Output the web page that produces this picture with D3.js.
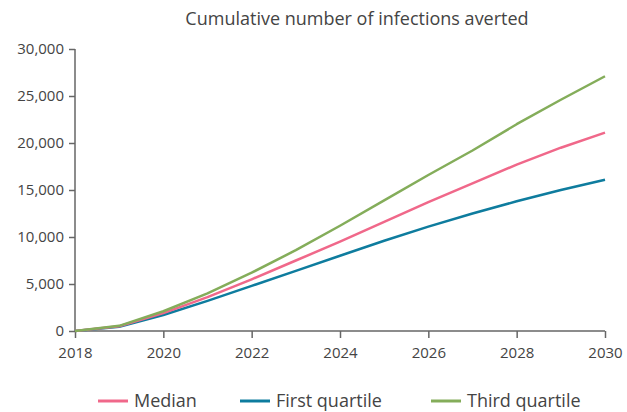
<!DOCTYPE html>
<html>
<head>
<meta charset="utf-8">
<script src="https://cdn.jsdelivr.net/npm/d3@7"></script>
<style>
  body { margin: 0; background: #fff; }
  svg text { font-family: "Open Sans", "Noto Sans", sans-serif; fill: #444; }
</style>
</head>
<body>
<div id="chart"></div>
<script>
var years = [2018, 2019, 2020, 2021, 2022, 2023, 2024, 2025, 2026, 2027, 2028, 2029, 2030];
var median = [0, 500, 1900, 3600, 5500, 7500, 9500, 11600, 13700, 15700, 17700, 19500, 21100];
var firstQuartile = [0, 450, 1700, 3200, 4800, 6400, 8000, 9600, 11100, 12500, 13800, 15000, 16100];
var thirdQuartile = [0, 550, 2100, 4000, 6200, 8600, 11200, 13900, 16600, 19200, 22000, 24600, 27100];
var xTicks = [2018, 2020, 2022, 2024, 2026, 2028, 2030];
var yTicks = [0, 5000, 10000, 15000, 20000, 25000, 30000];

var width = 627, height = 412;
var margin = { top: 49, right: 22, bottom: 81, left: 75 };

var svg = d3.select("#chart").append("svg")
  .attr("width", width).attr("height", height);

var x = d3.scaleLinear().domain([2018, 2030]).range([margin.left, width - margin.right]);
var y = d3.scaleLinear().domain([0, 30000]).range([height - margin.bottom, margin.top]);

svg.append("text")
  .attr("x", 357).attr("y", 25)
  .attr("text-anchor", "middle")
  .style("font-size", "18px")
  .text("Cumulative number of infections averted");

// axes
var fmt = d3.format(",");
var yAxis = svg.append("g")
  .attr("transform", "translate(" + margin.left + ",0)")
  .call(d3.axisLeft(y).tickValues(yTicks).tickSize(6).tickPadding(5).tickFormat(fmt));
var xAxis = svg.append("g")
  .attr("transform", "translate(0," + (height - margin.bottom) + ")")
  .call(d3.axisBottom(x).tickValues(xTicks).tickSize(7).tickPadding(9).tickFormat(d3.format("d")));

[yAxis, xAxis].forEach(function (g) {
  g.select(".domain").attr("stroke", "#666").attr("stroke-width", 1.5);
  g.selectAll(".tick line").attr("stroke", "#666").attr("stroke-width", 1.5);
  g.selectAll(".tick text").style("font-size", "15px").attr("fill", "#444")
    .style("font-family", "'Open Sans', 'Noto Sans', sans-serif");
});
// no outer tick stubs on the domain lines
yAxis.select(".domain").attr("d", "M0," + y(30000) + "V" + y(0));
xAxis.select(".domain").attr("d", "M" + x(2018) + ",0H" + x(2030));

var series = [
  { name: "First quartile", values: firstQuartile, color: "#0e7c9e" },
  { name: "Median", values: median, color: "#f0688a" },
  { name: "Third quartile", values: thirdQuartile, color: "#84ad5a" }
];

var line = d3.line()
  .x(function (d, i) { return x(years[i]); })
  .y(function (d) { return y(d); });

svg.append("g").selectAll("path")
  .data(series)
  .enter().append("path")
  .attr("d", function (d) { return line(d.values); })
  .attr("fill", "none")
  .attr("stroke", function (d) { return d.color; })
  .attr("stroke-width", 2.5)
  .attr("stroke-linejoin", "round");

// legend
var legendItems = [
  { name: "Median", color: "#f0688a", x: 98 },
  { name: "First quartile", color: "#0e7c9e", x: 240 },
  { name: "Third quartile", color: "#84ad5a", x: 431 }
];
var lg = svg.append("g").selectAll("g")
  .data(legendItems).enter().append("g")
  .attr("transform", function (d) { return "translate(" + d.x + ",401)"; });
lg.append("line")
  .attr("x1", 0).attr("x2", 30).attr("y1", 0).attr("y2", 0)
  .attr("stroke", function (d) { return d.color; })
  .attr("stroke-width", 3);
lg.append("text")
  .attr("x", 36).attr("y", 6)
  .style("font-size", "18px")
  .text(function (d) { return d.name; });
</script>
</body>
</html>
